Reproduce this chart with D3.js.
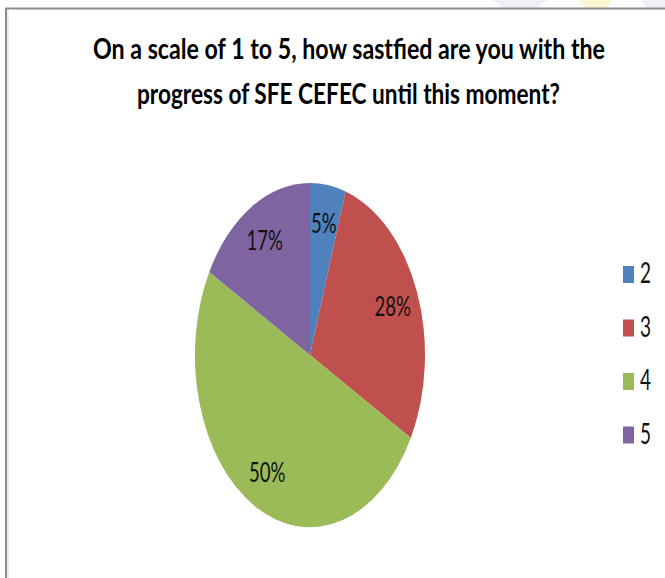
<!DOCTYPE html>
<html>
<head>
<meta charset="utf-8">
<script src="https://cdn.jsdelivr.net/npm/d3@7"></script>
<style>
  html, body { margin: 0; padding: 0; background: #fff; }
  svg { display: block; }
</style>
</head>
<body>
<script>
// ---- data ----
const categories = ["2", "3", "4", "5"];
const values = [5, 28, 50, 17];
const colors = ["#4F81BD", "#C0504D", "#9BBB59", "#8064A2"];
const titleLines = [
  "On a scale of 1 to 5, how sastfied are you with the",
  "progress of SFE CEFEC until this moment?"
];

// ---- layout ----
const W = 665, H = 578;
const FONT = "Lato, 'Open Sans', 'Liberation Sans', sans-serif";
const SY = 1.496;           // vertical stretch of the original picture
const cx = 310, cy = 355, R = 115;

const svg = d3.select("body").append("svg")
  .attr("width", W).attr("height", H);

svg.append("rect").attr("width", W).attr("height", H).attr("fill", "#fff");

// faint background shapes above the frame
const faint = [
  {pts: [[492,0],[548,0],[536,8],[504,8]], c: "#eef0f5"},
  {pts: [[578,0],[612,0],[606,8],[586,8]], c: "#fdf6d2"},
  {pts: [[640,0],[665,0],[665,8],[646,8]], c: "#eef0f5"}
];
svg.selectAll("polygon.faint").data(faint).join("polygon")
  .attr("class", "faint")
  .attr("points", d => d.pts.map(p => p.join(",")).join(" "))
  .attr("fill", d => d.c);

// frame (top and left edges)
svg.append("line").attr("x1", 5).attr("x2", W).attr("y1", 8.5).attr("y2", 8.5)
  .attr("stroke", "#8c8c8c").attr("stroke-width", 2);
svg.append("line").attr("x1", 6).attr("x2", 6).attr("y1", 8).attr("y2", H)
  .attr("stroke", "#8c8c8c").attr("stroke-width", 2);
svg.append("line").attr("x1", 8).attr("x2", 8).attr("y1", 10).attr("y2", H)
  .attr("stroke", "#d8d8d8").attr("stroke-width", 1);

// title
const titleSpecs = [
  {x: 349, y: 59, w: 512},
  {x: 348.5, y: 104, w: 423}
];
titleLines.forEach((t, i) => {
  svg.append("text")
    .attr("transform", `translate(${titleSpecs[i].x},${titleSpecs[i].y}) scale(1,${SY})`)
    .attr("text-anchor", "middle")
    .attr("font-family", FONT)
    .attr("font-weight", "bold")
    .attr("font-size", 18.6)
    .attr("textLength", titleSpecs[i].w)
    .attr("lengthAdjust", "spacingAndGlyphs")
    .attr("fill", "#000")
    .text(t);
});

// pie
const pie = d3.pie().sort(null).value(d => d.v);
const data = pie(categories.map((c, i) => ({c, v: values[i], col: colors[i]})));
const arc = d3.arc().innerRadius(0).outerRadius(R);
const labelArc = d3.arc().innerRadius(89).outerRadius(89);

const g = svg.append("g")
  .attr("transform", `translate(${cx},${cy}) scale(1,${SY})`);
g.selectAll("path").data(data).join("path")
  .attr("d", arc)
  .attr("fill", d => d.data.col);

const total = d3.sum(values);
svg.selectAll("text.lbl").data(data).join("text")
  .attr("class", "lbl")
  .attr("transform", d => {
    const c = labelArc.centroid(d);
    return `translate(${cx + c[0]},${cy + c[1] * SY + 10}) scale(1,${SY})`;
  })
  .attr("text-anchor", "middle")
  .attr("font-family", FONT)
  .attr("font-size", 18.6)
  .attr("fill", "#111")
  .text(d => Math.round(d.data.v / total * 100) + "%");

// legend
const legY = d3.scaleBand().domain(categories).range([256, 470]);
const leg = svg.selectAll("g.leg").data(categories).join("g")
  .attr("class", "leg")
  .attr("transform", d => `translate(623,${legY(d) + 10})`);
leg.append("rect")
  .attr("width", 11).attr("height", 17)
  .attr("fill", (d, i) => colors[i]);
leg.append("text")
  .attr("transform", `translate(17,17) scale(1,${SY})`)
  .attr("font-family", FONT)
  .attr("font-size", 19)
  .attr("fill", "#111")
  .text(d => d);
</script>
</body>
</html>
